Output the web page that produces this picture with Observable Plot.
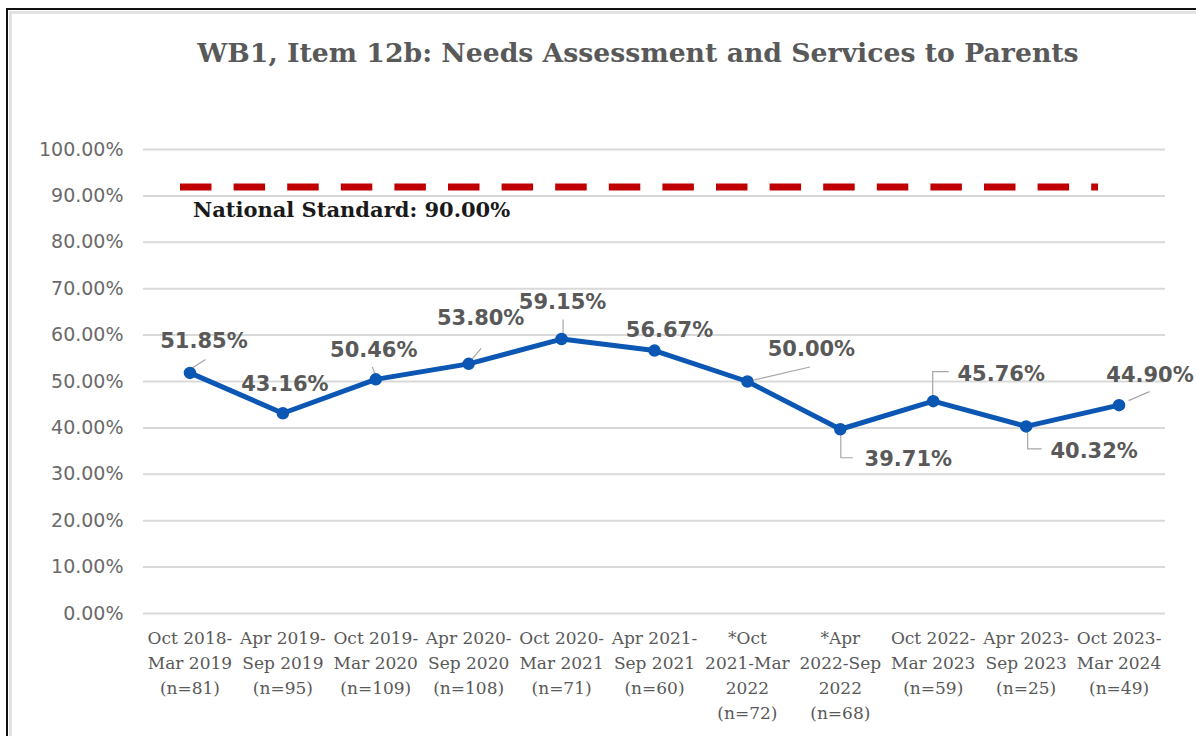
<!DOCTYPE html>
<html><head><meta charset="utf-8">
<script src="https://cdn.jsdelivr.net/npm/d3@7"></script>
<script src="https://cdn.jsdelivr.net/npm/@observablehq/plot@0.6"></script>
<style>
html,body{margin:0;padding:0;background:#fff;width:1196px;height:736px;overflow:hidden;}
#frame{position:absolute;left:6px;top:8px;width:1300px;height:800px;border-top:2.5px solid #111;border-left:2.5px solid #111;}
#inner{position:absolute;left:8.5px;top:10.5px;width:1300px;height:800px;border-top:3.5px solid #e2e2e2;border-left:3.5px solid #e2e2e2;}
#title{position:absolute;left:0;width:1276px;top:37px;text-align:center;font-weight:bold;font-size:26.7px;font-family:"DejaVu Serif";color:#595959;white-space:nowrap;}
#chart{position:absolute;left:0;top:120px;}
</style></head><body>
<div id="frame"></div><div id="inner"></div>
<div id="title">WB1, Item 12b: Needs Assessment and Services to Parents</div>
<div id="chart"></div>
<script>
// ---- data ----
const periods = ["Oct 2018-Mar 2019","Apr 2019-Sep 2019","Oct 2019-Mar 2020","Apr 2020-Sep 2020","Oct 2020-Mar 2021","Apr 2021-Sep 2021","*Oct 2021-Mar 2022","*Apr 2022-Sep 2022","Oct 2022-Mar 2023","Apr 2023-Sep 2023","Oct 2023-Mar 2024"];
const tickLabels = ["Oct 2018-\nMar 2019\n(n=81)","Apr 2019-\nSep 2019\n(n=95)","Oct 2019-\nMar 2020\n(n=109)","Apr 2020-\nSep 2020\n(n=108)","Oct 2020-\nMar 2021\n(n=71)","Apr 2021-\nSep 2021\n(n=60)","*Oct\n2021-Mar\n2022\n(n=72)","*Apr\n2022-Sep\n2022\n(n=68)","Oct 2022-\nMar 2023\n(n=59)","Apr 2023-\nSep 2023\n(n=25)","Oct 2023-\nMar 2024\n(n=49)"];
const rates = [51.85, 43.16, 50.46, 53.80, 59.15, 56.67, 50.00, 39.71, 45.76, 40.32, 44.90];
const nationalStandard = 90.00;
const standardLineLevel = 91.9; // where the dashed line sits in the picture
const yTicks = [0,10,20,30,40,50,60,70,80,90,100];

// ---- label layout (pixel offsets from each point) ----
const labelLayout = [
  {dx:14, dy:-32, leader:[[2,-4],[16,-13]]},
  {dx:2, dy:-29, leader:null},
  {dx:-2, dy:-29, leader:[[-3,-12],[1,-2]]},
  {dx:12, dy:-46, leader:[[13,-15],[1,-1]]},
  {dx:1, dy:-37, leader:[[2,-19],[2,-5]]},
  {dx:15, dy:-20, leader:null},
  {dx:64, dy:-32, leader:[[63,-14],[3,0]]},
  {dx:68, dy:30, leader:[[1,3],[1,29],[13,29]]},
  {dx:68, dy:-27, leader:[[0,-3],[0,-29],[16,-29]]},
  {dx:68, dy:25, leader:[[2,2],[2,23],[16,23]]},
  {dx:31, dy:-30, leader:[[10,-4],[31,-13]]}
];

const blue = "#0b57b3";

function leaders(index, scales) {
  const g = d3.create("svg:g").attr("fill","none").attr("stroke","#a6a6a6").attr("stroke-width",1.2);
  rates.forEach((v,i)=>{
    const pts = labelLayout[i].leader; if(!pts) return;
    const x0 = scales.x(periods[i]), y0 = scales.y(v);
    g.append("polyline").attr("points", pts.map(([dx,dy])=>`${x0+dx},${y0+dy}`).join(" "));
  });
  return g.node();
}

const labelMarks = rates.map((v,i)=>Plot.text([v], {
  x: ()=>periods[i], y: d=>d, text: d=>d.toFixed(2)+"%",
  dx: labelLayout[i].dx, dy: labelLayout[i].dy,
  fontSize: 21, fontWeight: "bold", fontFamily: "DejaVu Sans", fill: "#595959"
}));

const chart = Plot.plot({
  width: 1196, height: 616,
  marginLeft: 143, marginRight: 31, marginTop: 29, marginBottom: 123,
  style: {background: "transparent", overflow: "visible"},
  x: {type: "point", domain: periods, padding: 0.5, round: false, axis: null},
  y: {domain: [0, 100], axis: null},
  marks: [
    Plot.gridY(yTicks, {stroke: "#d9d9d9", strokeOpacity: 1, strokeWidth: 2}),
    Plot.text(yTicks, {y: d=>d, frameAnchor: "left", textAnchor: "end", dx: -20, text: d=>d.toFixed(2)+"%", fontSize: 19, fontFamily: "DejaVu Sans", fill: "#6a6a6a"}),
    Plot.text(periods, {x: d=>d, text: (d,i)=>tickLabels[i], frameAnchor: "bottom", lineAnchor: "top", dy: 13, lineHeight: 1.47, fontSize: 17, fontFamily: "DejaVu Serif", fill: "#595959"}),
    Plot.ruleY([standardLineLevel], {stroke:"#c00000", strokeWidth:7, strokeDasharray:"31.5,22.1", insetLeft: 37, insetRight: 67}),
    Plot.text([nationalStandard], {x: ()=>periods[0], y: ()=>standardLineLevel, text: d=>`National Standard: ${d.toFixed(2)}%`, textAnchor:"start", dx: 3, dy: 23, fontSize: 21, fontWeight: "bold", fontFamily: "DejaVu Serif", fill: "#1a1a1a"}),
    leaders,
    Plot.line(rates, {x: (d,i)=>periods[i], y: d=>d, stroke: blue, strokeWidth: 5}),
    Plot.dot(rates, {x: (d,i)=>periods[i], y: d=>d, r: 5.5, fill: blue, stroke: blue}),
    ...labelMarks
  ]
});
document.getElementById("chart").appendChild(chart);
</script>
</body></html>
